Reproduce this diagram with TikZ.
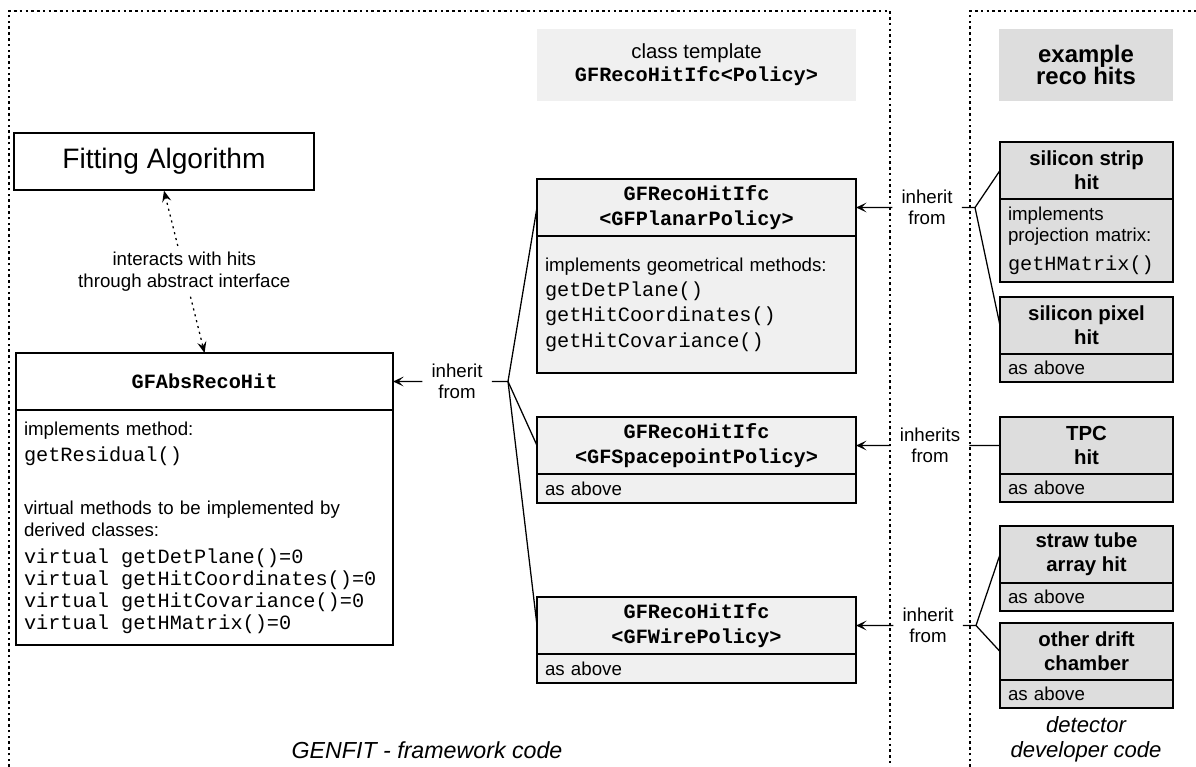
\documentclass[tikz,border=0pt]{standalone}
\usepackage{fontspec}
\setmainfont{Liberation Sans}
\setmonofont{Liberation Mono}
\usetikzlibrary{arrows.meta}
\definecolor{tmplgray}{HTML}{F0F0F0}
\definecolor{hitgray}{HTML}{DDDDDD}
\newcommand{\mth}[1]{{\fontsize{14.4}{15.6}\selectfont\ttfamily\spaceskip=0.6em\relax #1}}

\begin{document}
\begin{tikzpicture}[x=0.025cm, y=-0.025cm,
	region/.style={line width=0.8pt, dash pattern=on 1.8pt off 2.3pt},
	ttl/.style={draw, line width=0.9pt, anchor=north west, outer sep=0pt, minimum height=1.425cm, align=center, font=\fontsize{14.4}{17.7}\selectfont\ttfamily\bfseries},
	hitttl/.style={ttl, fill=hitgray, minimum width=4.325cm, font=\fontsize{14.5}{17}\selectfont\bfseries},
	body/.style={draw, line width=0.9pt, anchor=north west, outer sep=0pt, inner xsep=0.2cm, inner ysep=2pt, align=left, font=\fontsize{13.3}{15.6}\selectfont},
	hdr/.style={minimum height=1.8cm, align=center, font=\fontsize{14.5}{16.3}\selectfont},
	inh/.style={align=center, inner xsep=6.4pt, font=\fontsize{13.3}{15.2}\selectfont},
	note/.style={align=center, font=\fontsize{16.5}{17.7}\selectfont\itshape},
	conn/.style={line width=0.9pt},
	inharr/.style={conn, -{Stealth[length=7.5pt, width=7pt, inset=3.5pt]}},
	dotarr/.style={line width=0.9pt, dash pattern=on 1.5pt off 2.8pt, {Stealth[length=8pt, width=6.5pt, inset=3pt]}-{Stealth[length=8pt, width=6.5pt, inset=3pt]}}]
	\useasboundingbox (0,0) rectangle (1196,767);
	\draw [region] (9,767) -- (9,11) -- (890,11) -- (890,767);
	\draw [region] (970,767) -- (970,11) -- (1196,11);

	\node [hdr, fill=tmplgray, minimum width=7.975cm] (tmpl) at (696.5,65) {class template\\\mth{\bfseries GFRecoHitIfc<Policy>}};
	\node [hdr, fill=hitgray, minimum width=4.35cm, font=\fontsize{17}{16}\selectfont\bfseries] (hdrhits) at (1086,65) {example\\reco hits};

	\node [draw, line width=0.9pt, fill=white, minimum width=7.5cm, minimum height=1.425cm, font=\fontsize{20}{24}\selectfont] (fit) at (164,161.5) {Fitting Algorithm};

	\node [ttl, fill=white, minimum width=9.425cm] (abs) at (16,353) {GFAbsRecoHit};
	\node [body, fill=white, minimum width=9.425cm, text width=9.025cm, minimum height=5.875cm] (absbody) at (abs.south west) {implements method:\\[3.5pt]\mth{getResidual()}\\[22pt]virtual methods to be implemented by\\derived classes:\\[3.5pt]\mth{virtual getDetPlane()=0}\\\mth{virtual getHitCoordinates()=0}\\\mth{virtual getHitCovariance()=0}\\\mth{virtual getHMatrix()=0}};

	\node [ttl, fill=tmplgray, minimum width=7.975cm] (planar) at (537,179) {GFRecoHitIfc\\<GFPlanarPolicy>};
	\node [body, fill=tmplgray, minimum width=7.975cm, text width=7.575cm, minimum height=3.425cm] (planarbody) at (planar.south west) {implements geometrical methods:\\[2.5pt]\mth{getDetPlane()}\\[2.5pt]\mth{getHitCoordinates()}\\[2.5pt]\mth{getHitCovariance()}};
	\node [ttl, fill=tmplgray, minimum width=7.975cm] (space) at (537,417) {GFRecoHitIfc\\<GFSpacepointPolicy>};
	\node [body, fill=tmplgray, minimum width=7.975cm, text width=7.575cm, minimum height=0.725cm] (spacebody) at (space.south west) {as above};
	\node [ttl, fill=tmplgray, minimum width=7.975cm] (wire) at (537,597) {GFRecoHitIfc\\<GFWirePolicy>};
	\node [body, fill=tmplgray, minimum width=7.975cm, text width=7.575cm, minimum height=0.725cm] (wirebody) at (wire.south west) {as above};

	\node [hitttl] (strip) at (1000,142) {silicon strip\\hit};
	\node [body, fill=hitgray, minimum width=4.325cm, text width=3.925cm, minimum height=2.075cm, font=\fontsize{13.3}{15}\selectfont] (stripbody) at (strip.south west) {implements\\projection matrix:\\[5.5pt]\mth{getHMatrix()}};
	\node [hitttl] (pixel) at (1000,297) {silicon pixel\\hit};
	\node [body, fill=hitgray, minimum width=4.325cm, text width=3.925cm, minimum height=0.7cm] (pixelbody) at (pixel.south west) {as above};
	\node [hitttl] (tpc) at (1000,417) {TPC\\hit};
	\node [body, fill=hitgray, minimum width=4.325cm, text width=3.925cm, minimum height=0.7cm] (tpcbody) at (tpc.south west) {as above};
	\node [hitttl] (straw) at (1000,526) {straw tube\\array hit};
	\node [body, fill=hitgray, minimum width=4.325cm, text width=3.925cm, minimum height=0.7cm] (strawbody) at (straw.south west) {as above};
	\node [hitttl] (drift) at (1000,623) {other drift\\chamber};
	\node [body, fill=hitgray, minimum width=4.325cm, text width=3.925cm, minimum height=0.7cm] (driftbody) at (drift.south west) {as above};

	\draw [dotarr] (fit.south) -- node [fill=white, align=center, font=\fontsize{13.3}{15.6}\selectfont] (hint) {interacts with hits\\through abstract interface} (abs.north);

	\node [inh] (inhabs) at (457,381.5) {inherit\\from};
	\node [inh] (inhplanar) at (927,207.5) {inherit\\from};
	\node [inh] (inhspace) at (930,445.5) {inherits\\from};
	\node [inh] (inhwire) at (928,625.5) {inherit\\from};
	\coordinate (jabs) at (508,381.5);
	\coordinate (jplanar) at (975,207.5);
	\coordinate (jwire) at (976,625.5);

	\draw [inharr] (inhabs.west) -- (abs.east);
	\draw [conn] (inhabs.east) -- (jabs) -- (planar.west);
	\draw [conn] (jabs) -- (space.west);
	\draw [conn] (jabs) -- (wire.west);
	\draw [inharr] (inhplanar.west) -- (planar.east);
	\draw [conn] (inhplanar.east) -- (jplanar) -- (strip.west);
	\draw [conn] (jplanar) -- (pixel.west);
	\draw [inharr] (inhspace.west) -- (space.east);
	\draw [conn] (inhspace.east) -- (tpc.west);
	\draw [inharr] (inhwire.west) -- (wire.east);
	\draw [conn] (inhwire.east) -- (jwire) -- (straw.west);
	\draw [conn] (jwire) -- (drift.west);

	\node [note] (genfit) at (427,750) {GENFIT - framework code};
	\node [note, font=\fontsize{15.7}{17.7}\selectfont\itshape] (devcode) at (1086,739.5) {detector\\developer code};
\end{tikzpicture}
\end{document}
